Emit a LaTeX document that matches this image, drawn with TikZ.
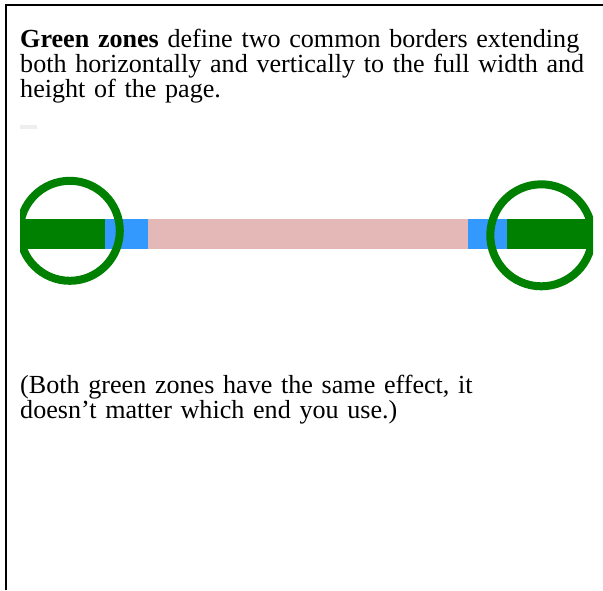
\documentclass[tikz,border=0pt]{standalone}
\usepackage{fontspec}
\setmainfont{Liberation Serif}
\usetikzlibrary{positioning}
\definecolor{zonegreen}{HTML}{008000}
\definecolor{edgeblue}{HTML}{3399FF}
\definecolor{barpink}{HTML}{E5B8B8}
\definecolor{dashgrey}{HTML}{EEEEEE}
\newcommand{\zoneb}[1]{\textbf{#1}}
\newcommand{\notefont}{\fontsize{26.1}{25}\selectfont\spaceskip=4.3pt\relax}
\tikzset{
  notetext/.style={anchor=base west, inner sep=0pt, align=left,
                   text width=585pt, font=\notefont},
  framerule/.style={line width=2.2pt, color=black},
  zonering/.style={draw=zonegreen, line width=8pt},
  barpart/.style={draw=none}}
\begin{document}
\begin{tikzpicture}[x=1pt, y=-1pt]
  \useasboundingbox (0,0) rectangle (603,590);
  % page frame
  \coordinate (tl) at (6.2,5);
  \coordinate (tr) at (603,5);
  \coordinate (bl) at (6.2,590);
  \draw[framerule] (tr) -- (tl) -- (bl);
  % captions
  \node[notetext] (intro) at (20,47) {\zoneb{Green zones} define two common borders extending\\
    both horizontally and vertically to the full width and\\
    height of the page.};
  \node[notetext] (remark) at (20,393) {(Both green zones have the same effect, it\\
    doesn't matter which end you use.)};
  \fill[dashgrey] (20,125) rectangle (37,129);
  % the bar
  \begin{scope}
    \clip (20,150) rectangle (593,310);
    \fill[zonegreen] (20,219.3) rectangle (105,249.3);
    \fill[edgeblue] (105,219.3) rectangle (148.3,249.3);
    \fill[barpink] (148.3,219.3) rectangle (468.3,249.3);
    \fill[edgeblue] (468.3,219.3) rectangle (507.3,249.3);
    \fill[zonegreen] (507.3,219.3) rectangle (593,249.3);
    \node[zonering, circle, minimum size=100pt] (leftzone) at (69.8,230.8) {};
    \node[zonering, circle, minimum size=102pt] (rightzone) at (541.3,235.3) {};
  \end{scope}
\end{tikzpicture}
\end{document}
